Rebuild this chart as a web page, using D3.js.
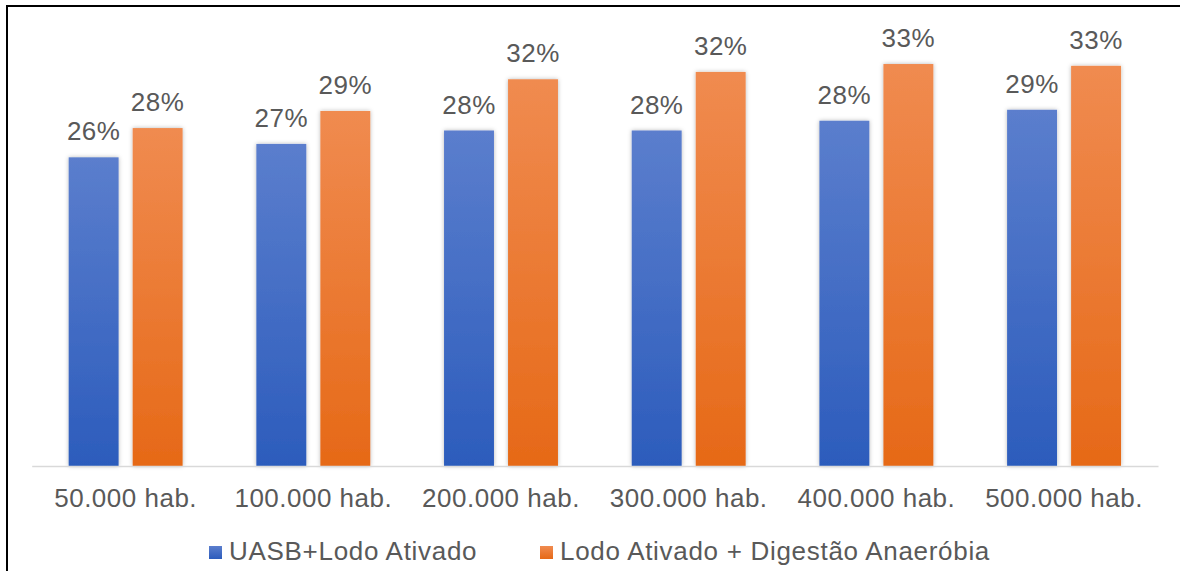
<!DOCTYPE html>
<html>
<head>
<meta charset="utf-8">
<script src="https://cdn.jsdelivr.net/npm/d3@7"></script>
<style>
  body { margin: 0; background: #fff; }
  text { font-family: "Liberation Sans", Arial, sans-serif; fill: #595959; }
</style>
</head>
<body>
<div id="chart"></div>
<script>
var categories = ["50.000 hab.", "100.000 hab.", "200.000 hab.", "300.000 hab.", "400.000 hab.", "500.000 hab."];
var seriesNames = ["UASB+Lodo Ativado", "Lodo Ativado + Digestão Anaeróbia"];
var uasb = [25.3, 26.4, 27.5, 27.5, 28.3, 29.2];
var digestao = [27.7, 29.1, 31.7, 32.3, 32.95, 32.8];
var uasbLabels = ["26%", "27%", "28%", "28%", "28%", "29%"];
var digestaoLabels = ["28%", "29%", "32%", "32%", "33%", "33%"];

var W = 1180, H = 571;
var svg = d3.select("#chart").append("svg")
    .attr("width", W).attr("height", H);

var defs = svg.append("defs");
function grad(id, top, bottom){
    var g = defs.append("linearGradient").attr("id", id)
	.attr("x1", 0).attr("y1", 0).attr("x2", 0).attr("y2", 1);
    g.append("stop").attr("offset", "0%").attr("stop-color", top);
    g.append("stop").attr("offset", "100%").attr("stop-color", bottom);
}
grad("gBlue", "#5b7ecd", "#2c5cbc");
grad("gOrange", "#f08b50", "#e66917");
var f = defs.append("filter").attr("id", "shadow")
    .attr("x", "-30%").attr("y", "-10%").attr("width", "160%").attr("height", "120%");
f.append("feDropShadow").attr("dx", 0).attr("dy", 0).attr("stdDeviation", 2.2)
    .attr("flood-color", "#000").attr("flood-opacity", 0.28);

// frame
svg.append("rect").attr("x", 7).attr("y", 6).attr("width", 1200).attr("height", 600)
    .attr("fill", "none").attr("stroke", "#000").attr("stroke-width", 2);

var x0 = d3.scaleBand().domain(categories).range([31.7, 1158])
    .paddingInner(0.393).paddingOuter(0.197);
var x1 = d3.scaleBand().domain([0, 1]).range([0, x0.bandwidth()]).paddingInner(0.22);
var y = d3.scaleLinear().domain([0, 35]).range([466, 39]);

var rows = categories.map(function(c, i){
    return [{c: c, s: 0, v: uasb[i], lab: uasbLabels[i]},
	    {c: c, s: 1, v: digestao[i], lab: digestaoLabels[i]}];
});
var fills = ["url(#gBlue)", "url(#gOrange)"];

var groups = svg.selectAll(".grp").data(rows).enter().append("g")
    .attr("class", "grp")
    .attr("transform", function(d){ return "translate(" + x0(d[0].c) + ",0)"; });

groups.selectAll("rect").data(function(d){ return d; }).enter().append("rect")
    .attr("x", function(d){ return x1(d.s); })
    .attr("y", function(d){ return y(d.v); })
    .attr("width", x1.bandwidth())
    .attr("height", function(d){ return y(0) - y(d.v); })
    .attr("fill", function(d){ return fills[d.s]; })
    .attr("filter", "url(#shadow)");

groups.selectAll(".lbl").data(function(d){ return d; }).enter().append("text")
    .attr("class", "lbl")
    .attr("x", function(d){ return x1(d.s) + x1.bandwidth() / 2; })
    .attr("y", function(d){ return y(d.v) - 17; })
    .attr("text-anchor", "middle")
    .style("font-size", "26px")
    .style("letter-spacing", "0.5px")
    .text(function(d){ return d.lab; });

var ax = svg.append("g").attr("transform", "translate(0,466)")
    .call(d3.axisBottom(x0).tickSize(0).tickPadding(22.5));
ax.select(".domain").attr("stroke", "#d9d9d9").attr("stroke-width", 1.5);
ax.selectAll("text").style("font-size", "26px").style("letter-spacing", "0.5px")
    .style("font-family", "'Liberation Sans', Arial, sans-serif").attr("fill", "#595959");

// legend
var legX = [209, 540];
var legColors = ["#3a66c4", "#ec7a30"];
var leg = svg.selectAll(".leg").data(seriesNames).enter().append("g")
    .attr("class", "leg")
    .attr("transform", function(d, i){ return "translate(" + legX[i] + ",0)"; });
leg.append("rect").attr("x", 0).attr("y", 546).attr("width", 13).attr("height", 13)
    .attr("fill", function(d, i){ return fills[i]; });
leg.append("text").attr("x", 20).attr("y", 560)
    .style("font-size", "26px").style("letter-spacing", "0.7px")
    .text(function(d){ return d; });
</script>
</body>
</html>
